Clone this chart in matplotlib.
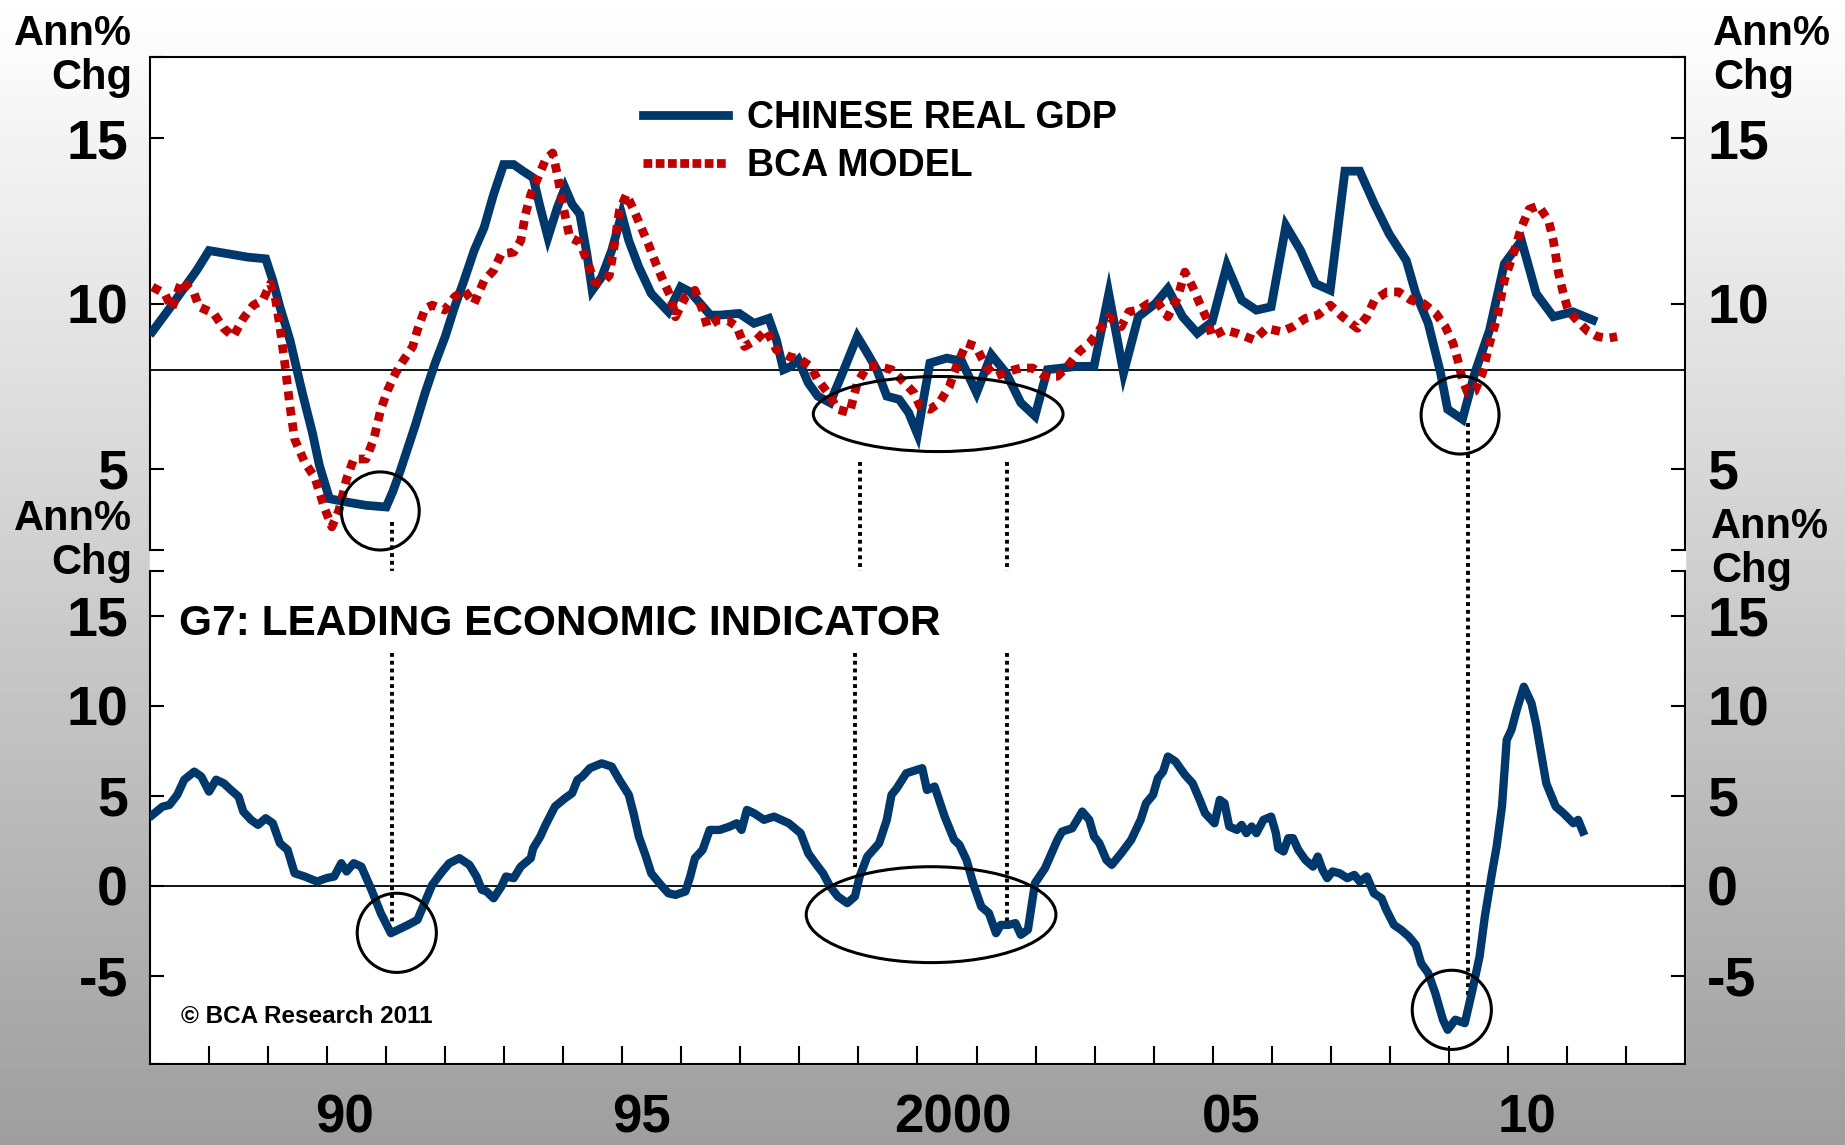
import matplotlib.pyplot as plt
import numpy as np
from matplotlib.lines import Line2D
from matplotlib.patches import Ellipse, Rectangle

W, H = 1845, 1145
DPI = 100

# Chinese real GDP, ann % chg
gdp_years = [1987.04, 1987.33, 1987.67, 1987.79, 1988.0, 1988.33, 1988.66, 1988.96, 1989.08, 1989.2,
             1989.37, 1989.58, 1989.75, 1989.87, 1990.04, 1990.33, 1990.66, 1991.0, 1991.12, 1991.24,
             1991.49, 1991.66, 1991.83, 1992.0, 1992.16, 1992.32, 1992.49, 1992.66, 1992.82, 1992.99,
             1993.16, 1993.32, 1993.49, 1993.61, 1993.74, 1993.9, 1994.03, 1994.15, 1994.28, 1994.4,
             1994.49, 1994.65, 1994.82, 1994.99, 1995.11, 1995.28, 1995.49, 1995.78, 1995.99, 1996.15,
             1996.32, 1996.49, 1996.65, 1996.98, 1997.23, 1997.48, 1997.61, 1997.73, 1997.86, 1997.98,
             1998.15, 1998.31, 1998.52, 1998.73, 1998.98, 1999.15, 1999.31, 1999.48, 1999.69, 1999.85,
             2000.0, 2000.12, 2000.21, 2000.5, 2000.75, 2001.0, 2001.25, 2001.5, 2001.75, 2001.99,
             2002.2, 2002.45, 2002.7, 2002.99, 2003.24, 2003.49, 2003.74, 2004.03, 2004.24, 2004.49,
             2004.74, 2004.99, 2005.24, 2005.49, 2005.74, 2005.99, 2006.24, 2006.49, 2006.74, 2006.99,
             2007.24, 2007.49, 2007.74, 2007.99, 2008.28, 2008.44, 2008.65, 2008.86, 2008.98, 2009.23,
             2009.44, 2009.69, 2009.94, 2010.23, 2010.48, 2010.77, 2011.1, 2011.44]
gdp_vals = [9.15, 9.85, 10.7, 11.0, 11.6, 11.5, 11.4, 11.35, 10.7, 9.9,
            8.9, 7.3, 6.1, 5.1, 4.1, 4.0, 3.9, 3.85, 4.35, 4.95,
            6.3, 7.3, 8.2, 9.0, 9.9, 10.7, 11.6, 12.3, 13.3, 14.2,
            14.2, 14.0, 13.8, 12.9, 12.0, 12.9, 13.5, 13.0, 12.7, 11.5,
            10.4, 10.8, 11.6, 12.7, 11.9, 11.1, 10.3, 9.75, 10.5, 10.35,
            10.0, 9.65, 9.65, 9.7, 9.4, 9.55, 8.9, 8.0, 8.1, 8.3,
            7.6, 7.2, 7.0, 7.9, 9.0, 8.5, 8.0, 7.2, 7.1, 6.7,
            6.05, 7.3, 8.2, 8.35, 8.25, 7.3, 8.45, 7.9, 7.0, 6.6,
            8.0, 8.05, 8.1, 8.1, 10.3, 7.9, 9.6, 10.0, 10.45, 9.6,
            9.1, 9.45, 11.15, 10.1, 9.8, 9.9, 12.35, 11.6, 10.6, 10.4,
            14.0, 14.0, 13.0, 12.1, 11.3, 10.3, 9.4, 7.9, 6.8, 6.5,
            7.9, 9.2, 11.2, 11.9, 10.3, 9.6, 9.75, 9.5]

# BCA model
bca_years = [1987.04, 1987.25, 1987.37, 1987.54, 1987.75, 1987.83, 1988.08, 1988.25, 1988.41, 1988.58,
             1988.75, 1988.91, 1989.04, 1989.12, 1989.2, 1989.29, 1989.37, 1989.45, 1989.62, 1989.79,
             1989.95, 1990.08, 1990.2, 1990.33, 1990.45, 1990.66, 1990.79, 1990.91, 1991.03, 1991.16,
             1991.28, 1991.45, 1991.53, 1991.66, 1991.78, 1991.99, 1992.16, 1992.32, 1992.49, 1992.66,
             1992.82, 1992.95, 1993.16, 1993.28, 1993.36, 1993.45, 1993.57, 1993.7, 1993.82, 1993.9,
             1993.99, 1994.11, 1994.28, 1994.4, 1994.53, 1994.65, 1994.78, 1994.86, 1994.95, 1995.07,
             1995.2, 1995.32, 1995.44, 1995.57, 1995.69, 1995.82, 1995.9, 1996.07, 1996.23, 1996.36,
             1996.44, 1996.61, 1996.78, 1996.94, 1997.07, 1997.27, 1997.44, 1997.61, 1997.82, 1998.02,
             1998.19, 1998.31, 1998.48, 1998.65, 1998.85, 1998.98, 1999.15, 1999.35, 1999.56, 1999.73,
             1999.94, 2000.04, 2000.21, 2000.37, 2000.54, 2000.66, 2000.83, 2000.99, 2001.16, 2001.33,
             2001.54, 2001.75, 2001.95, 2002.16, 2002.37, 2002.54, 2002.74, 2002.91, 2003.08, 2003.24,
             2003.45, 2003.58, 2003.74, 2003.91, 2004.08, 2004.24, 2004.41, 2004.53, 2004.66, 2004.78,
             2004.91, 2004.99, 2005.2, 2005.41, 2005.7, 2005.91, 2006.16, 2006.36, 2006.57, 2006.78,
             2006.99, 2007.2, 2007.45, 2007.61, 2007.74, 2007.95, 2008.15, 2008.36, 2008.57, 2008.78,
             2008.94, 2009.07, 2009.15, 2009.23, 2009.32, 2009.44, 2009.57, 2009.69, 2009.82, 2009.94,
             2010.11, 2010.23, 2010.36, 2010.52, 2010.69, 2010.77, 2010.86, 2010.94, 2011.02, 2011.19,
             2011.36, 2011.52, 2011.69, 2011.85]
bca_vals = [10.5, 10.3, 9.85, 10.7, 10.3, 9.9, 9.7, 9.25, 9.0, 9.55,
            9.95, 10.1, 10.6, 10.2, 9.3, 8.1, 6.9, 5.9, 5.2, 4.75,
            3.85, 3.25, 3.75, 4.7, 5.3, 5.3, 5.9, 6.8, 7.4, 7.9,
            8.25, 8.7, 9.2, 9.85, 9.95, 9.8, 10.2, 10.4, 10.0, 10.7,
            11.0, 11.5, 11.55, 11.9, 12.7, 13.3, 13.8, 14.35, 14.55, 13.9,
            13.0, 12.0, 11.85, 11.3, 10.65, 10.6, 10.85, 11.7, 12.8, 13.3,
            12.8, 12.3, 11.8, 11.2, 10.7, 10.2, 9.6, 10.2, 10.4, 9.8,
            9.3, 9.5, 9.5, 9.3, 8.7, 8.9, 9.2, 8.6, 8.4, 8.3,
            8.1, 7.7, 7.3, 6.8, 6.7, 7.6, 8.1, 8.1, 8.0, 7.7,
            7.3, 6.9, 6.8, 7.0, 7.5, 8.1, 8.8, 8.7, 8.1, 7.8,
            7.95, 8.05, 8.05, 7.8, 7.8, 8.1, 8.55, 8.8, 9.2, 9.6,
            9.3, 9.75, 9.8, 10.0, 10.0, 9.6, 10.2, 10.95, 10.5, 10.0,
            9.5, 9.0, 9.2, 9.1, 8.9, 9.25, 9.15, 9.3, 9.55, 9.65,
            9.95, 9.6, 9.25, 9.6, 10.1, 10.35, 10.35, 10.1, 10.0, 9.7,
            9.3, 8.8, 8.3, 7.7, 7.3, 7.35, 7.9, 8.8, 9.6, 10.7,
            11.6, 12.3, 12.85, 12.95, 12.5, 11.9, 10.9, 10.3, 9.8, 9.45,
            9.15, 9.0, 8.95, 9.0]

# G7 leading economic indicator, ann % chg
lei_years = [1987.04, 1987.21, 1987.33, 1987.46, 1987.58, 1987.75, 1987.87, 1988.0, 1988.12, 1988.25,
             1988.37, 1988.5, 1988.58, 1988.71, 1988.83, 1988.96, 1989.08, 1989.2, 1989.33, 1989.45,
             1989.62, 1989.83, 1989.99, 1990.12, 1990.24, 1990.33, 1990.45, 1990.58, 1990.74, 1990.91,
             1991.08, 1991.2, 1991.37, 1991.53, 1991.66, 1991.78, 1991.95, 1992.07, 1992.24, 1992.41,
             1992.53, 1992.62, 1992.7, 1992.82, 1992.95, 1993.03, 1993.16, 1993.28, 1993.45, 1993.49,
             1993.61, 1993.7, 1993.86, 1994.03, 1994.15, 1994.24, 1994.32, 1994.45, 1994.65, 1994.82,
             1994.95, 1995.11, 1995.19, 1995.28, 1995.4, 1995.49, 1995.65, 1995.78, 1995.9, 1996.07,
             1996.15, 1996.23, 1996.36, 1996.48, 1996.65, 1996.82, 1996.94, 1997.02, 1997.11, 1997.23,
             1997.4, 1997.57, 1997.69, 1997.82, 1998.02, 1998.15, 1998.27, 1998.4, 1998.52, 1998.65,
             1998.81, 1998.94, 1999.02, 1999.15, 1999.35, 1999.48, 1999.56, 1999.65, 1999.81, 1999.98,
             2000.08, 2000.16, 2000.29, 2000.46, 2000.62, 2000.71, 2000.83, 2000.96, 2001.08, 2001.21,
             2001.33, 2001.41, 2001.54, 2001.66, 2001.75, 2001.87, 2001.99, 2002.16, 2002.37, 2002.45,
             2002.62, 2002.79, 2002.91, 2002.99, 2003.08, 2003.2, 2003.29, 2003.45, 2003.62, 2003.78,
             2003.87, 2003.99, 2004.07, 2004.16, 2004.24, 2004.37, 2004.53, 2004.66, 2004.78, 2004.87,
             2005.03, 2005.12, 2005.2, 2005.28, 2005.41, 2005.49, 2005.57, 2005.66, 2005.74, 2005.86,
             2005.99, 2006.07, 2006.11, 2006.2, 2006.28, 2006.36, 2006.45, 2006.57, 2006.7, 2006.78,
             2006.86, 2006.94, 2007.03, 2007.15, 2007.28, 2007.4, 2007.49, 2007.61, 2007.73, 2007.86,
             2007.94, 2008.07, 2008.19, 2008.32, 2008.44, 2008.53, 2008.65, 2008.77, 2008.9, 2008.98,
             2009.11, 2009.27, 2009.4, 2009.52, 2009.61, 2009.73, 2009.81, 2009.9, 2009.98, 2010.06,
             2010.15, 2010.27, 2010.4, 2010.48, 2010.65, 2010.81, 2010.94, 2011.11, 2011.19, 2011.27]
lei_vals = [3.94, 4.4, 4.5, 5.05, 5.9, 6.35, 6.07, 5.24, 5.9, 5.7,
            5.33, 4.96, 4.13, 3.67, 3.39, 3.76, 3.48, 2.37, 2.0, 0.7,
            0.52, 0.24, 0.43, 0.52, 1.26, 0.8, 1.26, 1.07, -0.13, -1.52,
            -2.63, -2.44, -2.17, -1.89, -0.87, 0.06, 0.8, 1.26, 1.54, 1.17,
            0.52, -0.22, -0.31, -0.69, -0.04, 0.52, 0.43, 1.07, 1.54, 2.09,
            2.74, 3.39, 4.41, 4.87, 5.15, 5.89, 6.07, 6.54, 6.81, 6.63,
            5.89, 5.06, 4.04, 2.74, 1.63, 0.7, 0.06, -0.41, -0.5, -0.31,
            0.52, 1.54, 2.0, 3.11, 3.11, 3.3, 3.48, 3.11, 4.22, 4.04,
            3.67, 3.85, 3.67, 3.48, 2.93, 1.81, 1.26, 0.7, -0.04, -0.59,
            -0.96, -0.59, 0.52, 1.63, 2.37, 3.67, 5.06, 5.43, 6.26, 6.44,
            6.54, 5.33, 5.52, 3.85, 2.56, 2.28, 1.44, -0.04, -1.15, -1.52,
            -2.63, -2.17, -2.17, -2.07, -2.72, -2.44, 0.15, 0.98, 2.56, 3.02,
            3.2, 4.13, 3.67, 2.74, 2.37, 1.44, 1.17, 1.81, 2.56, 3.67,
            4.59, 5.06, 5.98, 6.35, 7.19, 6.91, 6.17, 5.7, 4.78, 4.04,
            3.48, 4.78, 4.59, 3.3, 3.11, 3.39, 2.93, 3.3, 2.93, 3.67,
            3.85, 2.93, 2.09, 1.91, 2.65, 2.65, 2.0, 1.44, 1.07, 1.63,
            0.89, 0.43, 0.8, 0.7, 0.43, 0.61, 0.24, 0.52, -0.41, -0.69,
            -1.33, -2.17, -2.44, -2.81, -3.28, -4.3, -4.85, -5.96, -7.44, -8.0,
            -7.44, -7.63, -5.78, -3.93, -1.7, 0.7, 2.19, 4.41, 8.11, 8.67,
            9.78, 11.07, 10.15, 8.94, 5.7, 4.41, 4.04, 3.48, 3.67, 3.02]

year_ticks = list(range(1988, 2013))
year_labels = ["90", "95", "2000", "05", "10"]
year_label_pos = [1990.3, 1995.32, 2000.6, 2005.32, 2010.32]

# highlighted turning points: (x year, y value, width yrs, height units)
gdp_marks = [(1990.9, 3.73, 1.32, 2.36), (2000.35, 6.66, 4.23, 2.27), (2009.19, 6.63, 1.32, 2.36)]
lei_marks = [(1991.18, -2.61, 1.34, 4.4), (2000.23, -1.6, 4.23, 5.33), (2009.05, -6.89, 1.34, 4.4)]
# dotted guides: (x upper, upper from, upper to, x lower, lower from, lower to)
guides = [(1991.10, 3.40, 1.74, 1991.10, 12.94, -2.17),
          (1999.03, 5.21, 1.74, 1998.94, 12.94, 1.06),
          (2001.52, 5.21, 1.74, 2001.52, 12.94, -2.06),
          (2009.33, 6.39, 1.92, 2009.33, 17.5, -6.22)]

BLUE = "#00386B"
RED = "#C00000"

plt.rcParams["font.family"] = ["Liberation Sans", "DejaVu Sans"]
plt.rcParams["font.weight"] = "bold"
plt.rcParams["axes.unicode_minus"] = False


def fx(px):
    return px / W


def fy(py):
    return 1 - py / H


fig = plt.figure(figsize=(W / DPI, H / DPI), dpi=DPI)

# background: white-to-grey gradient with white plot area
bg = fig.add_axes([0, 0, 1, 1], zorder=-10)
grad = np.linspace(1.0, 0.62, 256)[:, None]
bg.imshow(grad, cmap="gray", vmin=0, vmax=1, aspect="auto", extent=[0, 1, 0, 1])
bg.add_patch(Rectangle((fx(150), fy(1064)), fx(1685) - fx(150), fy(57) - fy(1064), color="white"))
bg.set_xlim(0, 1)
bg.set_ylim(0, 1)
bg.axis("off")

ax1 = fig.add_axes([fx(150), fy(550), fx(1685) - fx(150), fy(57) - fy(550)])
ax2 = fig.add_axes([fx(150), fy(1064), fx(1685) - fx(150), fy(571) - fy(1064)])

for ax in (ax1, ax2):
    ax.set_xlim(1987, 2013)
    ax.set_facecolor("white")
    for s in ax.spines.values():
        s.set_linewidth(1.5)

# upper panel
ax1.axhline(8, color="black", lw=1.3, zorder=1)
ax1.plot(gdp_years, gdp_vals, color=BLUE, lw=6.3, solid_joinstyle="miter", zorder=3)
ax1.plot(bca_years, bca_vals, color=RED, lw=6.3, linestyle=(0, (1.0, 0.8)), zorder=4)
ax1.set_ylim(2.55, 17.45)
ax1.set_yticks([5, 10, 15])
ax1.set_yticks([2.55, 17.45], minor=True)
ax1.set_xticks([])
ax1.spines["bottom"].set_visible(False)
ax1.tick_params(axis="y", which="both", direction="in", length=10, width=1.5,
                left=True, right=True, labelleft=True, labelright=True, labelsize=40, pad=16)

handles = [Line2D([], [], color=BLUE, lw=6.3),
           Line2D([], [], color=RED, lw=6.3, linestyle=(0, (1.0, 0.4)))]
ax1.legend(handles, ["CHINESE REAL GDP", "BCA MODEL"], loc="upper left",
           bbox_to_anchor=(0.3212, 0.912), frameon=False, fontsize=27,
           handlelength=2.27, handletextpad=0.5, labelspacing=0.3,
           borderpad=0, borderaxespad=0)

# lower panel
ax2.axhline(0, color="black", lw=1.3, zorder=1)
ax2.plot(lei_years, lei_vals, color=BLUE, lw=6.0, zorder=3)
ax2.set_ylim(-9.9, 17.5)
ax2.set_yticks([-5, 0, 5, 10, 15])
ax2.set_yticks([-9.9, 17.5], minor=True)
ax2.spines["top"].set_visible(False)
ax2.tick_params(axis="y", which="both", direction="in", length=10, width=1.5,
                left=True, right=True, labelleft=True, labelright=True, labelsize=40, pad=16)
ax2.set_xticks(year_ticks)
ax2.set_xticklabels([])
ax2.set_xticks(year_label_pos, minor=True)
ax2.set_xticklabels(year_labels, minor=True)
ax2.tick_params(axis="x", which="major", direction="in", length=13, width=1.5)
ax2.tick_params(axis="x", which="minor", length=0, labelsize=38, pad=21)

# circles and dotted guides
for ax, marks in ((ax1, gdp_marks), (ax2, lei_marks)):
    for x, y, w, h in marks:
        ax.add_patch(Ellipse((x, y), w, h, fill=False, ec="black", lw=2.2, zorder=5, clip_on=False))

for xu, u0, u1, xl, l0, l1 in guides:
    ax1.plot([xu, xu], [u0, u1], color="black", lw=2.8, linestyle=(0, (1.0, 1.0)), clip_on=False, zorder=2)
    ax2.plot([xl, xl], [l0, l1], color="black", lw=2.8, linestyle=(0, (1.0, 1.0)), clip_on=False, zorder=2)

fig.text(fx(179), fy(624), "G7: LEADING ECONOMIC INDICATOR", fontsize=30.5, ha="left", va="center")
fig.text(fx(181), fy(1016), "\u00a9 BCA Research 2011", fontsize=17.5, ha="left", va="center")

# axis unit labels
for px, py, ha in ((132, 45, "right"), (1713, 45, "left"), (132, 530, "right"), (1711, 538, "left")):
    fig.text(fx(px), fy(py), "Ann%", fontsize=30, ha=ha, va="baseline")
    fig.text(fx(px), fy(py + 44), "Chg", fontsize=30, ha=ha, va="baseline")

fig.savefig("out.png", dpi=DPI)
